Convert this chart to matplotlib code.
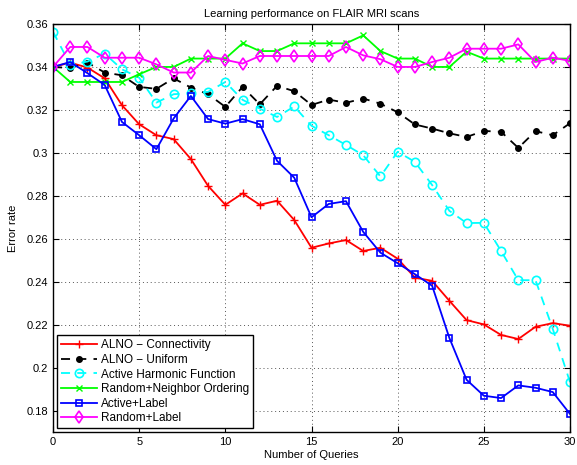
import matplotlib
matplotlib.use("Agg")
import matplotlib.pyplot as plt
from matplotlib.ticker import FixedLocator, FixedFormatter

plt.rcParams['font.family'] = ['Liberation Sans', 'DejaVu Sans']

queries = list(range(31))

alno_conn = [0.340, 0.342, 0.3397, 0.3347, 0.3222, 0.3133, 0.3082, 0.3064, 0.2971, 0.2846,
             0.2758, 0.2811, 0.2758, 0.2777, 0.2687, 0.2558, 0.2578, 0.2594, 0.2543, 0.2558,
             0.2507, 0.2419, 0.2404, 0.2311, 0.2221, 0.2201, 0.2152, 0.2133, 0.2190, 0.2207,
             0.2195]
alno_unif = [0.340, 0.3395, 0.342, 0.3374, 0.3361, 0.3307, 0.3298, 0.3347, 0.3304, 0.3273,
             0.3214, 0.3307, 0.3226, 0.3312, 0.3287, 0.3223, 0.3248, 0.3233, 0.3253, 0.3229,
             0.3189, 0.3132, 0.3113, 0.3091, 0.3074, 0.3102, 0.3098, 0.3023, 0.3101, 0.3082,
             0.3138]
harmonic = [0.3564, 0.341, 0.3425, 0.3462, 0.3389, 0.3350, 0.3234, 0.3273, 0.3278, 0.3284,
            0.3330, 0.3247, 0.3206, 0.3167, 0.3216, 0.3126, 0.3082, 0.3037, 0.2989, 0.2890,
            0.3005, 0.2958, 0.2850, 0.2730, 0.2673, 0.2674, 0.2543, 0.2407, 0.2407, 0.2180,
            0.1932]
rand_neigh = [0.340, 0.333, 0.333, 0.333, 0.333, 0.3366, 0.340, 0.340, 0.3439, 0.3439,
              0.3439, 0.351, 0.3474, 0.3474, 0.351, 0.351, 0.351, 0.351, 0.3547, 0.3474,
              0.3439, 0.3439, 0.340, 0.340, 0.3471, 0.3439, 0.3439, 0.3439, 0.3439, 0.3439,
              0.3439]
active_label = [0.340, 0.3423, 0.3371, 0.3316, 0.3144, 0.3082, 0.3017, 0.3160, 0.3265, 0.3157,
                0.3136, 0.3157, 0.3133, 0.2963, 0.2884, 0.2700, 0.2762, 0.2775, 0.2632, 0.2535,
                0.2486, 0.2435, 0.2381, 0.2138, 0.1943, 0.1869, 0.1858, 0.1917, 0.1906, 0.1886,
                0.1784]
rand_label = [0.340, 0.3493, 0.3493, 0.3443, 0.3443, 0.3443, 0.3412, 0.3374, 0.3374, 0.3451,
              0.3433, 0.3416, 0.3451, 0.3451, 0.3451, 0.3451, 0.3451, 0.3493, 0.3454, 0.3436,
              0.340, 0.340, 0.3423, 0.3443, 0.3485, 0.3485, 0.3485, 0.3505, 0.3423, 0.3443,
              0.3428]

labels = ["ALNO \u2212 Connectivity", "ALNO \u2212 Uniform", "Active Harmonic Function",
          "Random+Neighbor Ordering", "Active+Label", "Random+Label"]
xticks = [0, 5, 10, 15, 20, 25, 30]
yticks = [0.18, 0.2, 0.22, 0.24, 0.26, 0.28, 0.3, 0.32, 0.34, 0.36]
ytick_labels = ["0.18", "0.2", "0.22", "0.24", "0.26", "0.28", "0.3", "0.32", "0.34", "0.36"]

fig = plt.figure(figsize=(5.77, 4.65), dpi=100)
ax = fig.add_axes([53/577, 1-432/465, (570-53)/577, (432-24)/465])

lw = 1.3
ax.plot(queries, alno_conn, color=(1, 0, 0), marker='+', markersize=6, lw=lw, label=labels[0])
ax.plot(queries, alno_unif, color='k', ls=(0, (5, 4)), marker='o', markersize=4,
        markerfacecolor='k', lw=lw, label=labels[1])
ax.plot(queries, harmonic, color=(0, 1, 1), ls=(0, (5, 4)), marker='o', markersize=6,
        markerfacecolor='none', markeredgewidth=1.2, lw=lw, label=labels[2])
ax.plot(queries, rand_neigh, color=(0, 1, 0), marker='x', markersize=5, lw=lw, label=labels[3])
ax.plot(queries, active_label, color=(0, 0, 1), marker='s', markersize=5,
        markerfacecolor='none', markeredgewidth=1.2, lw=lw, label=labels[4])
ax.plot(queries, rand_label, color=(1, 0, 1), marker='d', markersize=6,
        markerfacecolor='none', markeredgewidth=1.2, lw=lw, label=labels[5])

ax.set_xlim(0, 30)
ax.set_ylim(0.17, 0.36)
ax.xaxis.set_major_locator(FixedLocator(xticks))
ax.yaxis.set_major_locator(FixedLocator(yticks))
ax.yaxis.set_major_formatter(FixedFormatter(ytick_labels))
ax.tick_params(direction='in', top=True, right=True, labelsize=8, length=4)
ax.grid(True, ls=(0, (1, 3)), color='#555555', lw=0.7)
for s in ax.spines.values():
    s.set_linewidth(1.0)

ax.set_xlabel("Number of Queries", fontsize=8, labelpad=2)
ax.set_ylabel("Error rate", fontsize=8, labelpad=6)
ax.set_title("Learning performance on FLAIR MRI scans", fontsize=8, pad=5)

leg = ax.legend(loc='lower left', fontsize=8.5, fancybox=False, edgecolor='k',
                framealpha=1, borderaxespad=0.3, handlelength=3.1, labelspacing=0.22,
                borderpad=0.35, handletextpad=0.3)
leg.get_frame().set_linewidth(1.0)

fig.savefig("out.png", dpi=100)
